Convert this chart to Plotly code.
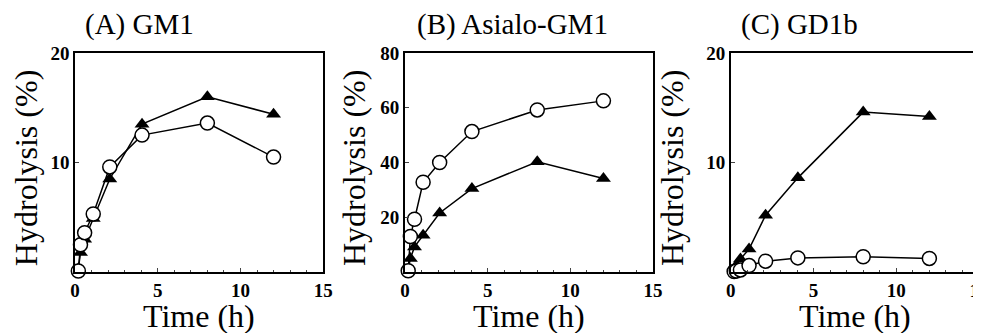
import plotly.graph_objects as go

# ---- data ----
time_h = [0.2, 0.33, 0.58, 1.1, 2.1, 4.05, 8, 12]

gm1_triangle = [0.3, 1.8, 3.0, 4.9, 8.5, 13.5, 16.0, 14.4]
gm1_circle = [0.1, 2.5, 3.6, 5.3, 9.6, 12.5, 13.6, 10.5]

asialo_triangle = [1.0, 5.0, 9.2, 13.5, 21.6, 30.5, 40.3, 34.2]
asialo_circle = [0.5, 13.0, 19.3, 32.8, 40.0, 51.3, 59.2, 62.5]

gd1b_triangle = [0.2, 0.6, 1.2, 2.1, 5.2, 8.6, 14.6, 14.2]
gd1b_circle = [0.05, 0.1, 0.2, 0.6, 1.0, 1.3, 1.4, 1.25]

panel_titles = ["(A) GM1", "(B) Asialo-GM1", "(C) GD1b"]
y_ranges = [[0, 20], [0, 80], [0, 20]]
y_ticks = [[10, 20], [20, 40, 60, 80], [10, 20]]
x_ticks = [0, 5, 10, 15]
x_title = "Time (h)"
y_title = "Hydrolysis (%)"

# ---- layout geometry (figure pixels) ----
W, H = 981, 333
x_doms = [(63, 315), (398, 650), (729, 981)]
y_top, y_bot = 36, 262
title_x = [128, 507, 799]
title_y = 7
ytitle_x = [14, 347, 670]
ytitle_y = 155
xtitle_y = 307

FONT = "Liberation Serif"
series = [
    (gm1_circle, gm1_triangle),
    (asialo_circle, asialo_triangle),
    (gd1b_circle, gd1b_triangle),
]

fig = go.Figure()
layout = dict(
    width=W, height=H, margin=dict(l=0, r=0, t=0, b=0),
    paper_bgcolor="white", plot_bgcolor="white", showlegend=False,
    font=dict(family=FONT, color="black"),
)
annotations = []
for i, (circ, tri) in enumerate(series):
    sfx = "" if i == 0 else str(i + 1)
    xa, ya = "x" + sfx, "y" + sfx
    fig.add_trace(go.Scatter(
        x=time_h, y=tri, xaxis=xa, yaxis=ya, mode="lines+markers",
        line=dict(color="black", width=1.5),
        marker=dict(symbol="triangle-up", size=13, color="black"),
        name="filled triangle", cliponaxis=False,
    ))
    fig.add_trace(go.Scatter(
        x=time_h, y=circ, xaxis=xa, yaxis=ya, mode="lines+markers",
        line=dict(color="black", width=1.5),
        marker=dict(symbol="circle", size=14, color="white",
                    line=dict(color="black", width=1.5)),
        name="open circle", cliponaxis=False,
    ))
    x0, x1 = x_doms[i]
    tf = dict(family=FONT, size=19, color="black", weight="bold")
    layout["xaxis" + sfx] = dict(
        domain=[x0 / W, x1 / W], anchor=ya, range=[0, 15],
        tickvals=x_ticks, ticks="inside", ticklen=4, tickwidth=1,
        minor=dict(dtick=1, ticks="inside", ticklen=2),
        showline=True, mirror=True, linecolor="black", linewidth=1.5,
        showgrid=False, zeroline=False, tickfont=tf,
        ticklabeloverflow="allow", ticklabelstandoff=0,
    )
    layout["yaxis" + sfx] = dict(
        domain=[1 - y_bot / H, 1 - y_top / H], anchor=xa, range=y_ranges[i],
        tickvals=y_ticks[i], ticks="inside", ticklen=4, tickwidth=1,
        showline=True, mirror=True, linecolor="black", linewidth=1.5,
        showgrid=False, zeroline=False, tickfont=tf,
    )
    annotations.append(dict(
        text=panel_titles[i], x=title_x[i] / W, y=1 - title_y / H,
        xref="paper", yref="paper", showarrow=False,
        xanchor="center", yanchor="middle",
        font=dict(family=FONT, size=29, color="black"),
    ))
    annotations.append(dict(
        text=x_title, x=(x0 + x1) / 2 / W, y=1 - xtitle_y / H,
        xref="paper", yref="paper", showarrow=False,
        xanchor="center", yanchor="middle",
        font=dict(family=FONT, size=32, color="black"),
    ))
    annotations.append(dict(
        text=y_title, x=ytitle_x[i] / W, y=1 - ytitle_y / H,
        xref="paper", yref="paper", showarrow=False, textangle=-90,
        xanchor="center", yanchor="middle",
        font=dict(family=FONT, size=32, color="black"),
    ))
layout["annotations"] = annotations
fig.update_layout(**layout)
fig.write_html("out.html")
